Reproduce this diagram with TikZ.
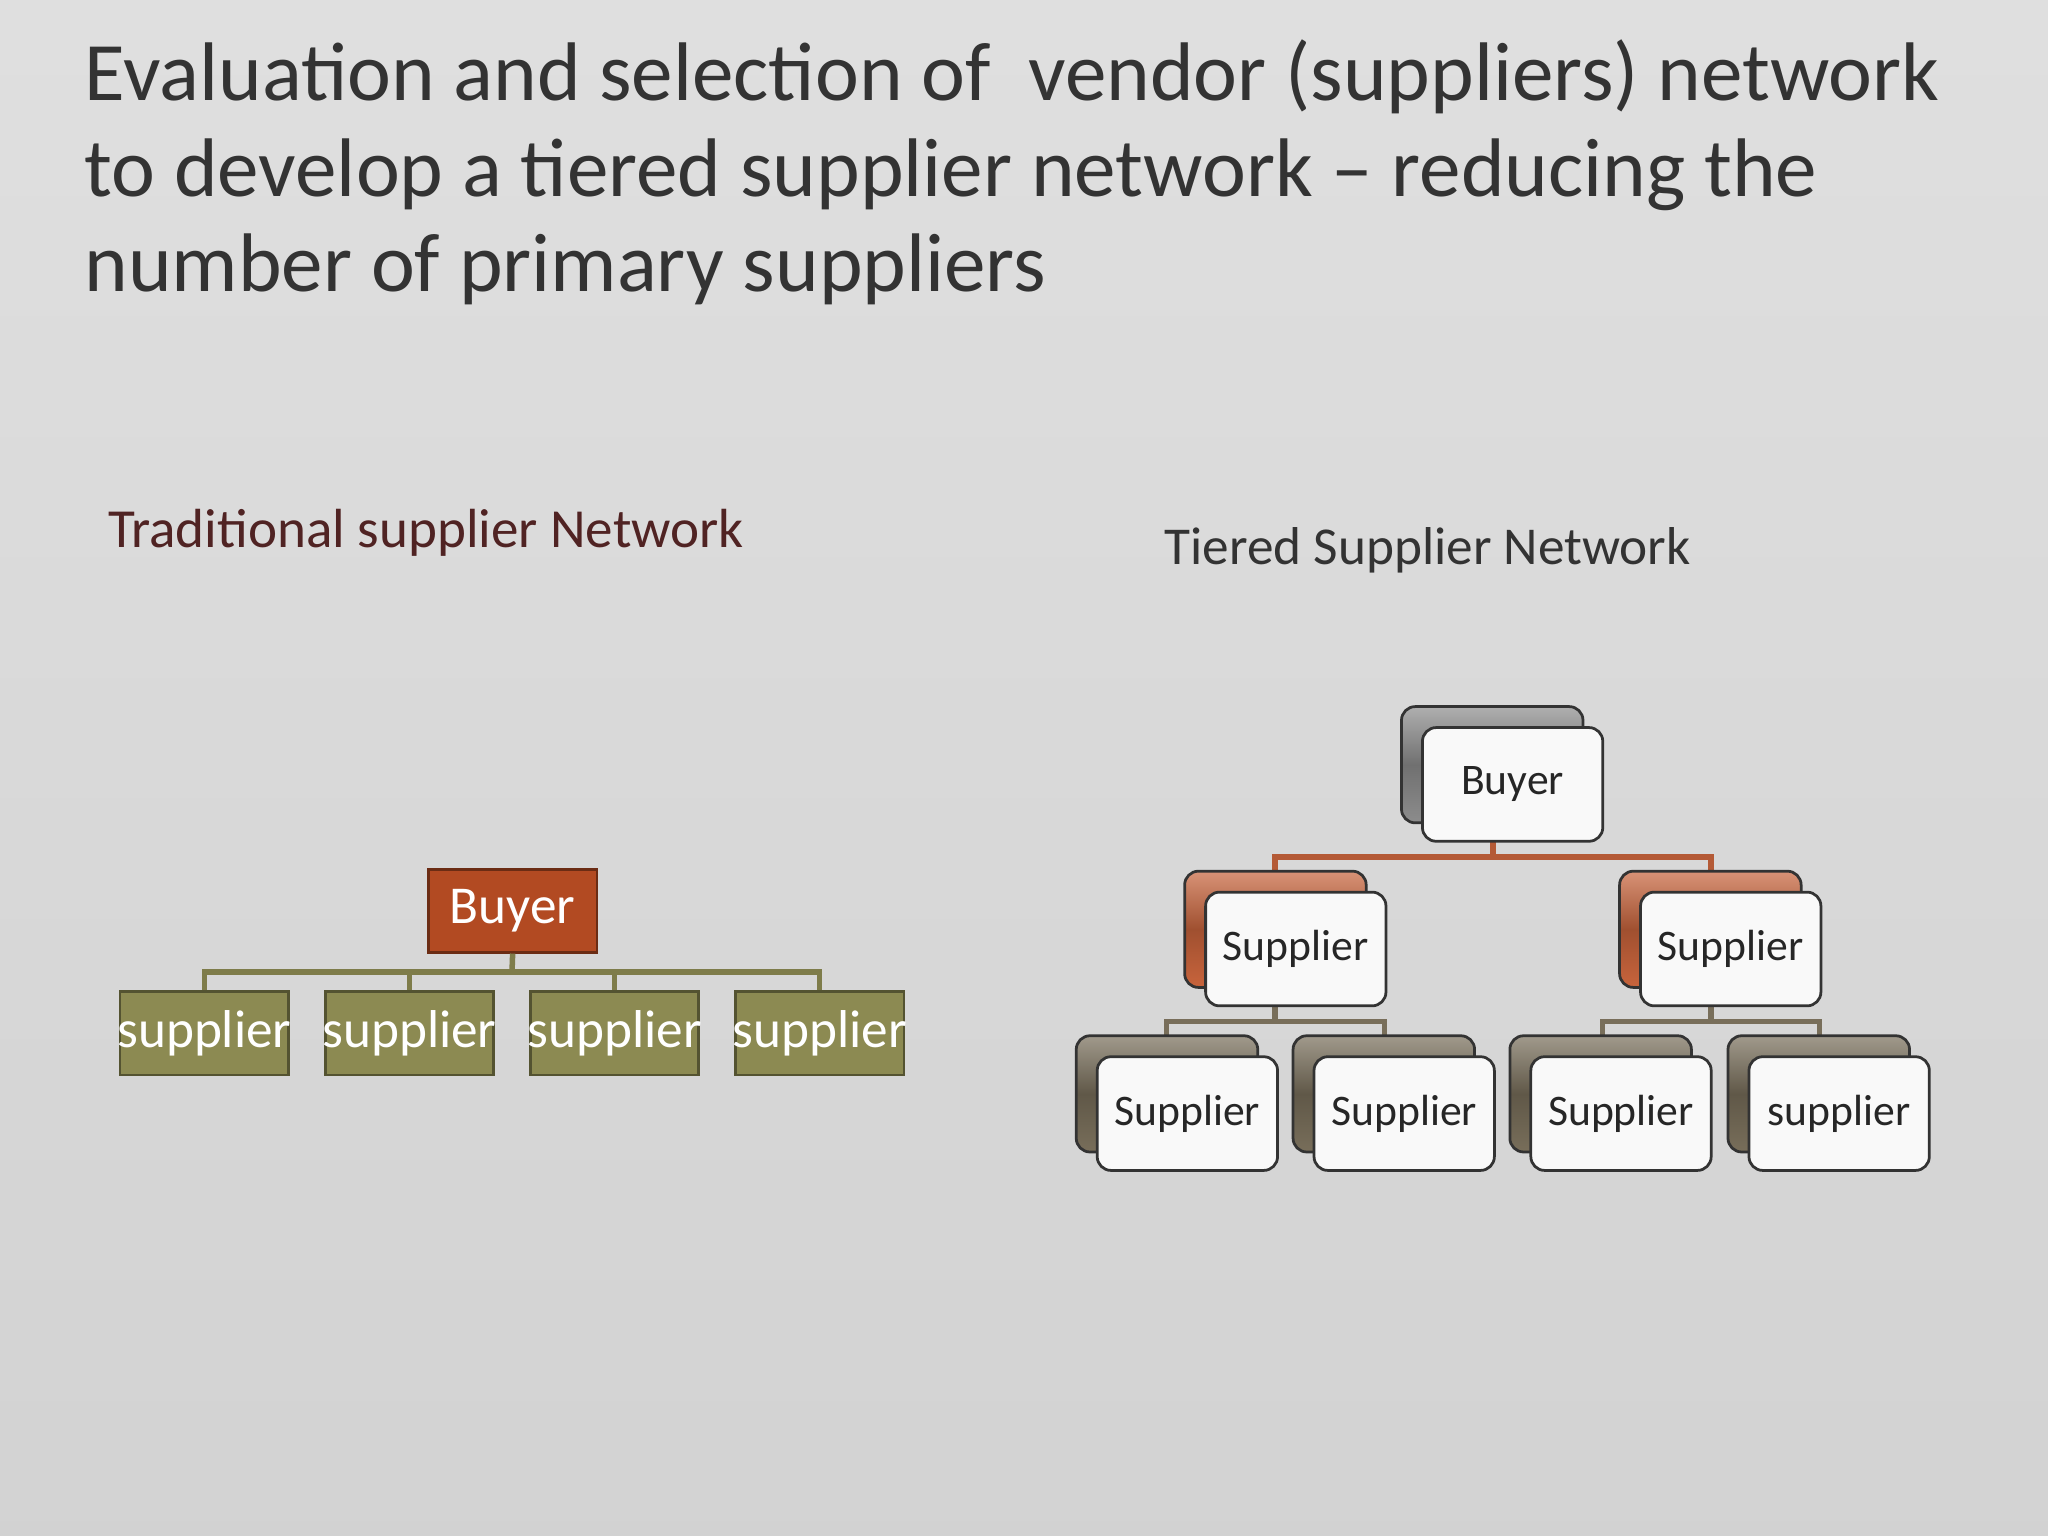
\documentclass[tikz,border=0pt]{standalone}
\usepackage{fontspec}
\setmainfont{Carlito}
\begin{document}
\begin{tikzpicture}[x=0.01cm,y=-0.01cm,
  tradbox/.style={draw=#1!60!black,line width=0.6pt,fill=#1,text=white,inner sep=0pt,font=\fontsize{11.6}{14}\selectfont},
  backbox/.style={draw=black!80,line width=0.6pt,rounded corners=3pt,top color=#1!70!white,bottom color=#1,middle color=#1!80!black},
  frontbox/.style={draw=black!80,line width=0.6pt,rounded corners=3pt,fill=white!95!gray,text=black!85,font=\fontsize{9.5}{12}\selectfont},
  conn/.style={draw=#1,line width=1.2pt}]
\shade[top color=gray!25,bottom color=gray!35] (0,0) rectangle (1568,1176);
\useasboundingbox (0,0) rectangle (1568,1176);
\node[anchor=north west,align=left,text=black!80,font=\fontsize{18.1}{20.8}\selectfont,inner sep=0pt] (title) at (64,30)
 {Evaluation and selection of\ \ vendor (suppliers) network\\to develop a tiered supplier network -- reducing the\\number of primary suppliers};
\node[anchor=west,inner sep=0pt,text={rgb,255:red,80;green,35;blue,35},font=\fontsize{12}{14}\selectfont] (t1) at (82,408) {Traditional supplier Network};
\node[anchor=west,inner sep=0pt,text=black!80,font=\fontsize{11.6}{14}\selectfont] (t2) at (891,421) {Tiered Supplier Network};
% traditional
\colorlet{rust}{rgb,255:red,178;green,74;blue,34}
\colorlet{olive}{rgb,255:red,140;green,138;blue,82}
\node[tradbox=rust,minimum width=1.29cm,minimum height=0.63cm] (b) at (392.5,697.5) {Buyer};
\foreach \i/\x in {1/156.5,2/313.5,3/470.5,4/627.5}
  \node[tradbox=olive,minimum width=1.29cm,minimum height=0.64cm] (s\i) at (\x,791) {\makebox[0pt]{supplier}};
\coordinate (bar) at (392,744);
\draw[conn=olive!90!black] (b.south) -- (bar);
\draw[conn=olive!90!black] (s1.north) |- (s4.north |- bar) -- (s4.north);
\draw[conn=olive!90!black] (s2.north) -- (s2.north |- bar);
\draw[conn=olive!90!black] (s3.north) -- (s3.north |- bar);
% tiered
\colorlet{gr}{gray!90}
\colorlet{cu}{rgb,255:red,200;green,100;blue,60}
\colorlet{br}{rgb,255:red,120;green,110;blue,90}
\newcommand\tbox[5]{% name, x back left, y back top, color, text
  \draw[backbox=#4] (#2,#3) rectangle ++(139,89);
  \node[frontbox,minimum width=1.38cm,minimum height=0.87cm,anchor=north west] (#1) at (#2+15,#3+15) {};
  \node[frontbox,draw=none,fill=none] at (#1.center) {#5};}
\coordinate (cb) at (1143,656);
\coordinate (c1) at (976,782);
\coordinate (c2) at (1310,782);
\draw[conn=cu!90!black] (1143,640) -- (cb);
\draw[conn=cu!90!black] (976,670) |- (1310,656) -- (1310,670);
\draw[conn=br] (976,765) -- (c1);
\draw[conn=br] (893,796) |- (1060,782) -- (1060,796);
\draw[conn=br] (1310,765) -- (c2);
\draw[conn=br] (1227,796) |- (1393,782) -- (1393,796);
\tbox{B}{1073}{541}{gr}{Buyer}
\tbox{M1}{907}{667}{cu}{Supplier}
\tbox{M2}{1240}{667}{cu}{Supplier}
\tbox{L1}{824}{793}{br}{Supplier}
\tbox{L2}{990}{793}{br}{Supplier}
\tbox{L3}{1156}{793}{br}{Supplier}
\tbox{L4}{1323}{793}{br}{supplier}
\end{tikzpicture}
\end{document}
